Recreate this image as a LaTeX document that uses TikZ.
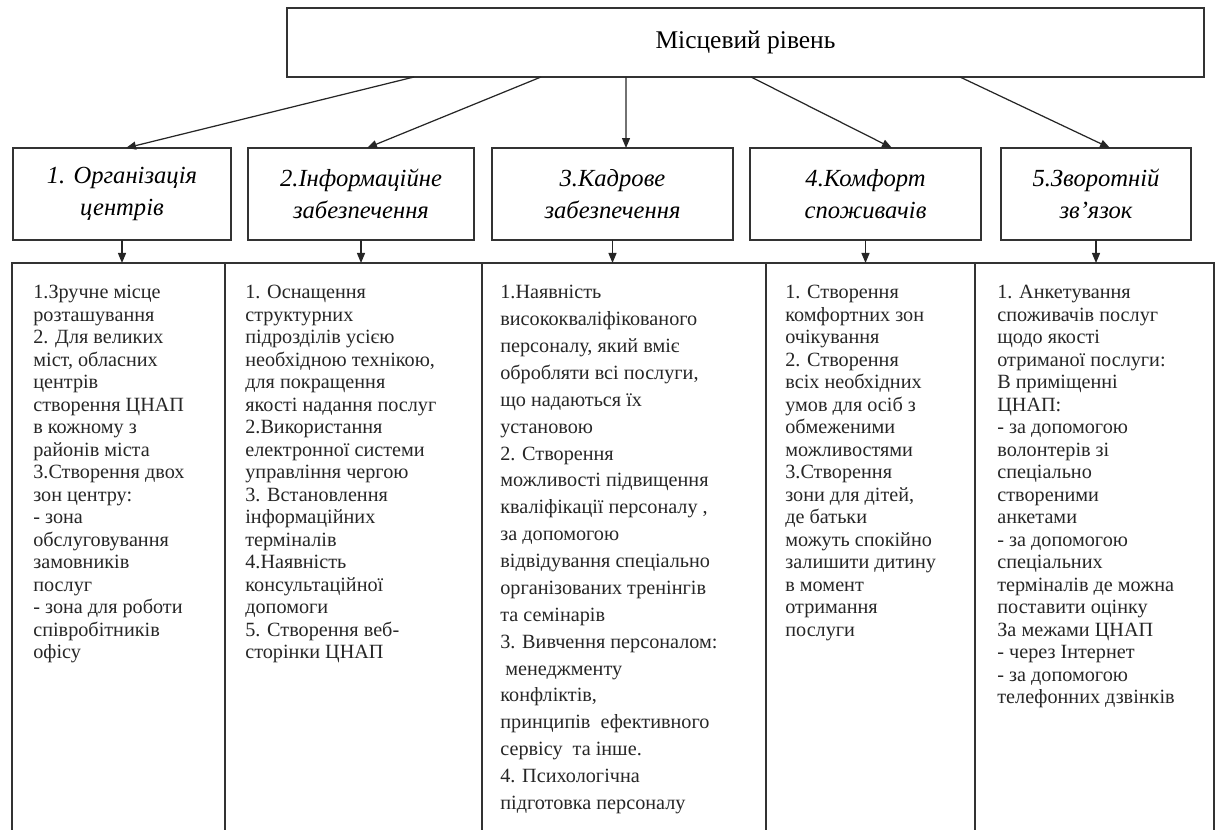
\documentclass[tikz,border=0pt]{standalone}
\usepackage{fontspec}
\setmainfont{Liberation Serif}
\usepackage{tikz}
\usetikzlibrary{arrows.meta}

\tikzset{
  box/.style={draw=black!80, line width=0.8pt, inner sep=0pt, outer sep=0pt},
  head/.style={box, align=center, minimum height=1.84cm, font=\fontsize{14}{18.2}\selectfont\itshape},
  cell/.style={box, anchor=north west, minimum height=11.8cm},
  txt/.style={anchor=north west, align=left, inner sep=0pt, text=black!85, font=\fontsize{11.5}{12.8}\selectfont},
  arr/.style={draw=black!85, line width=0.7pt, -{Triangle[length=0.2cm,width=0.16cm]}}
}

\begin{document}
\begin{tikzpicture}[x=0.02cm, y=-0.02cm]
	\useasboundingbox (0,0) rectangle (1216,830);
	\clip (0,0) rectangle (1216,830);

	\node[box, minimum width=18.34cm, minimum height=1.38cm, font=\fontsize{14.5}{17}\selectfont] (top) at (745.5,42.5) {Місцевий рівень};

	% second row
	\node[head, minimum width=4.36cm] (h1) at (122,194) {1. Організація\\центрів};
	\node[head, minimum width=4.52cm] (h2) at (361,194) {2.Інформаційне\\забезпечення};
	\node[head, minimum width=4.82cm] (h3) at (612.5,194) {3.Кадрове\\забезпечення};
	\node[head, minimum width=4.62cm] (h4) at (865.5,194) {4.Комфорт\\споживачів};
	\node[head, minimum width=3.80cm] (h5) at (1096,194) {5.Зворотній\\зв’язок};

	% bottom row
	\node[cell, minimum width=4.26cm] (c1) at (12,263) {};
	\node[cell, minimum width=5.14cm] (c2) at (225,263) {};
	\node[cell, minimum width=5.68cm] (c3) at (482,263) {};
	\node[cell, minimum width=4.18cm] (c4) at (766,263) {};
	\node[cell, minimum width=4.78cm] (c5) at (975,263) {};

	\node[txt] (t1) at (33,285) {1.Зручне місце\\розташування\\2. Для великих\\міст, обласних\\центрів\\створення ЦНАП\\в кожному з\\районів міста\\3.Створення двох\\зон центру:\\- зона\\обслуговування\\замовників\\послуг\\- зона для роботи\\співробітників\\офісу};
	\node[txt] (t2) at (245,285) {1. Оснащення\\структурних\\підрозділів усією\\необхідною технікою,\\для покращення\\якості надання послуг\\2.Використання\\електронної системи\\управління чергою\\3. Встановлення\\інформаційних\\терміналів\\4.Наявність\\консультаційної\\допомоги\\5. Створення веб-\\сторінки ЦНАП};
	\node[txt, font=\fontsize{11.5}{15.3}\selectfont] (t3) at (500,285) {1.Наявність\\висококваліфікованого\\персоналу, який вміє\\обробляти всі послуги,\\що надаються їх\\установою\\2. Створення\\можливості підвищення\\кваліфікації персоналу ,\\за допомогою\\відвідування спеціально\\організованих тренінгів\\та семінарів\\3. Вивчення персоналом:\\\ менеджменту\\конфліктів,\\принципів\ \ ефективного\\сервісу\ \ та інше.\\4. Психологічна\\підготовка персоналу};
	\node[txt] (t4) at (785,285) {1. Створення\\комфортних зон\\очікування\\2. Створення\\всіх необхідних\\умов для осіб з\\обмеженими\\можливостями\\3.Створення\\зони для дітей,\\де батьки\\можуть спокійно\\залишити дитину\\в момент\\отримання\\послуги};
	\node[txt] (t5) at (997,285) {1. Анкетування\\споживачів послуг\\щодо якості\\отриманої послуги:\\В приміщенні\\ЦНАП:\\- за допомогою\\волонтерів зі\\спеціально\\створеними\\анкетами\\- за допомогою\\спеціальних\\терміналів де можна\\поставити оцінку\\За межами ЦНАП\\- через Інтернет\\- за допомогою\\телефонних дзвінків};

	% arrows
	\draw[arr] ([xshift=2.54cm]top.south west) -- ([xshift=0.08cm]h1.north);
	\draw[arr] ([xshift=5.08cm]top.south west) -- ([xshift=0.12cm]h2.north);
	\draw[arr] ([xshift=6.78cm]top.south west) -- ([xshift=0.27cm]h3.north);
	\draw[arr] ([xshift=9.28cm]top.south west) -- ([xshift=0.53cm]h4.north);
	\draw[arr] ([xshift=13.46cm]top.south west) -- ([xshift=0.28cm]h5.north);

	\draw[arr] (h1.south) -- (h1.south |- c1.north);
	\draw[arr] (h2.south) -- (h2.south |- c2.north);
	\draw[arr] (h3.south) -- (h3.south |- c3.north);
	\draw[arr] (h4.south) -- (h4.south |- c4.north);
	\draw[arr] (h5.south) -- (h5.south |- c5.north);

\end{tikzpicture}
\end{document}
